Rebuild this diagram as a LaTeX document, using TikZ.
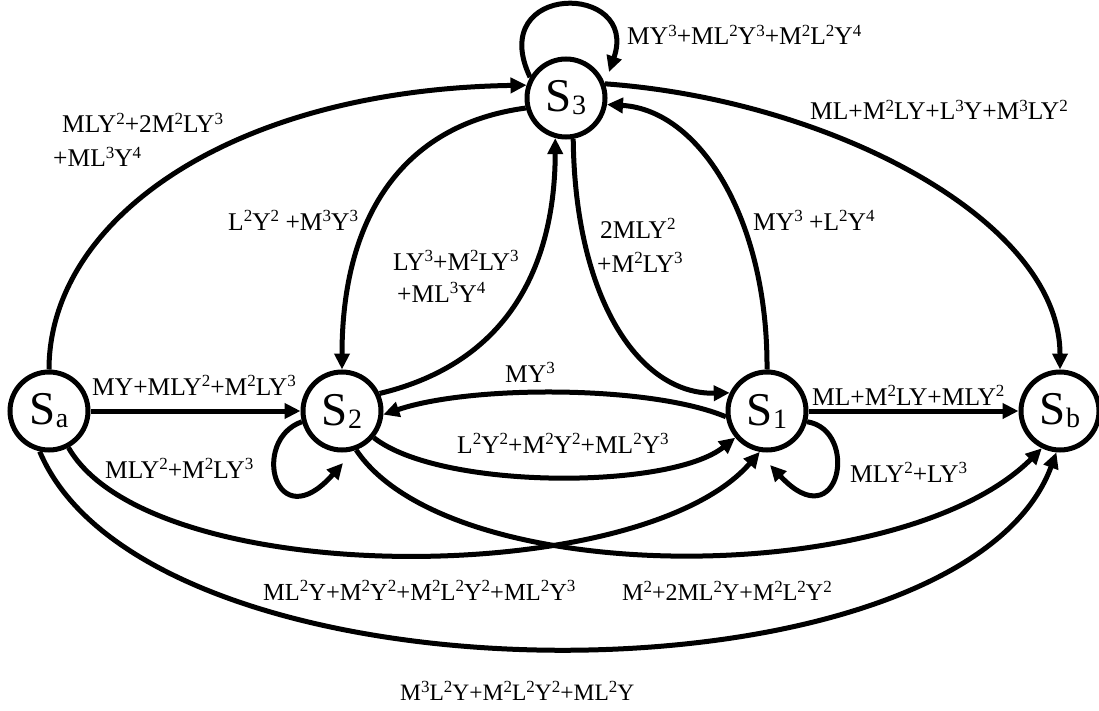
\documentclass[tikz,border=0pt]{standalone}
\usepackage{fontspec}
\setmainfont{Liberation Serif}
\usetikzlibrary{arrows.meta}
\newcommand\sps[1]{\raisebox{0.33em}{\fontsize{17}{17}\selectfont #1}}
\newcommand\sbs[1]{\raisebox{-3pt}{\fontsize{28}{28}\selectfont #1}}
\begin{document}
\begin{tikzpicture}[x=1pt,y=-1pt,
  state/.style={circle,draw,line width=5pt,minimum size=78pt,inner sep=0pt,font=\fontsize{47}{47}\selectfont},
  edge/.style={line width=5pt,-{Triangle[length=16pt,width=15pt]}},
  lbl/.style={inner sep=0pt,anchor=base west,font=\fontsize{25.5}{28}\selectfont},
  small/.style={font=\fontsize{24}{28}\selectfont}]
\path[use as bounding box] (0,0) rectangle (1099,711);
% states
\node[state] (Sa) at (49,411) {S\sbs{a}};
\node[state] (S2) at (342,411) {S\sbs{2}};
\node[state] (S1) at (767,411) {S\sbs{1}};
\node[state] (Sb) at (1060,411) {S\sbs{b}};
\node[state] (S3) at (566,98) {S\sbs{3}};
% free ends of self-loops
\coordinate (l2end) at (343,463);
\coordinate (l1end) at (770,465);
\coordinate (l3end) at (609,72);
% edges
\draw[edge] (Sa) -- (S2);
\draw[edge] (S1) -- (Sb);
\draw[edge] (S2.195) .. controls (250,440) and (275,540) .. (l2end);
\draw[edge] (S1.-15) .. controls (860,430) and (840,540) .. (l1end);
\draw[edge] (S3.150) .. controls (485,-18) and (640,-18) .. (l3end);
\draw[edge] (S2.-40) .. controls (440,490) and (670,490) .. (S1.-140);
\draw[edge] (S1.188) .. controls (650,385) and (470,385) .. (S2.-5);
\draw[edge] (S2.25) .. controls (520,360) and (555,250) .. (S3.-105);
\draw[edge] (S3.-80) .. controls (575,300) and (640,395) .. (S1.154);
\draw[edge] (S1.90) .. controls (768,220) and (700,110) .. (S3.-9);
\draw[edge] (S3.194) .. controls (400,125) and (342,220) .. (S2.90);
\draw[edge] (Sa.90) .. controls (49,220) and (230,90) .. (S3.162);
\draw[edge] (S3.20) .. controls (830,100) and (1060,220) .. (Sb.90);
\draw[edge] (Sa.-62) .. controls (150,590) and (640,590) .. (S1.-100);
\draw[edge] (S2.-70) .. controls (450,590) and (900,590) .. (Sb.-116);
\draw[edge] (Sa.-103) .. controls (150,714) and (960,714) .. (Sb.-95);
% labels
\node[lbl] (tS3loop) at (627,45) {MY\sps{3}+ML\sps{2}Y\sps{3}+M\sps{2}L\sps{2}Y\sps{4}};
\node[lbl] (tS3Sb) at (810,120) {ML+M\sps{2}LY+L\sps{3}Y+M\sps{3}LY\sps{2}};
\node[lbl] (tSaS3a) at (62,133) {MLY\sps{2}+2M\sps{2}LY\sps{3}};
\node[lbl] (tSaS3b) at (53,167) {+ML\sps{3}Y\sps{4}};
\node[lbl] (tS3S2) at (228,230) {L\sps{2}Y\sps{2} +M\sps{3}Y\sps{3}};
\node[lbl] (tS2S3a) at (393,270) {LY\sps{3}+M\sps{2}LY\sps{3}};
\node[lbl] (tS2S3b) at (397,302) {+ML\sps{3}Y\sps{4}};
\node[lbl] (tS3S1a) at (600,238) {2MLY\sps{2}};
\node[lbl] (tS3S1b) at (597,272) {+M\sps{2}LY\sps{3}};
\node[lbl] (tS1S3) at (753,230) {MY\sps{3} +L\sps{2}Y\sps{4}};
\node[lbl] (tSaS2) at (92,395) {MY+MLY\sps{2}+M\sps{2}LY\sps{3}};
\node[lbl] (tS2loop) at (105,478) {MLY\sps{2}+M\sps{2}LY\sps{3}};
\node[lbl] (tS1S2) at (505,382) {MY\sps{3}};
\node[lbl] (tS2S1) at (457,453) {L\sps{2}Y\sps{2}+M\sps{2}Y\sps{2}+ML\sps{2}Y\sps{3}};
\node[lbl] (tS1Sb) at (812,405) {ML+M\sps{2}LY+MLY\sps{2}};
\node[lbl] (tS1loop) at (850,482) {MLY\sps{2}+LY\sps{3}};
\node[lbl,font=\fontsize{24.5}{28}\selectfont] (tSaS1) at (263,600) {ML\sps{2}Y+M\sps{2}Y\sps{2}+M\sps{2}L\sps{2}Y\sps{2}+ML\sps{2}Y\sps{3}};
\node[lbl,small] (tS2Sb) at (622,600) {M\sps{2}+2ML\sps{2}Y+M\sps{2}L\sps{2}Y\sps{2}};
\node[lbl,font=\fontsize{23.5}{28}\selectfont] (tSaSb) at (400,700) {M\sps{3}L\sps{2}Y+M\sps{2}L\sps{2}Y\sps{2}+ML\sps{2}Y};
\end{tikzpicture}
\end{document}
